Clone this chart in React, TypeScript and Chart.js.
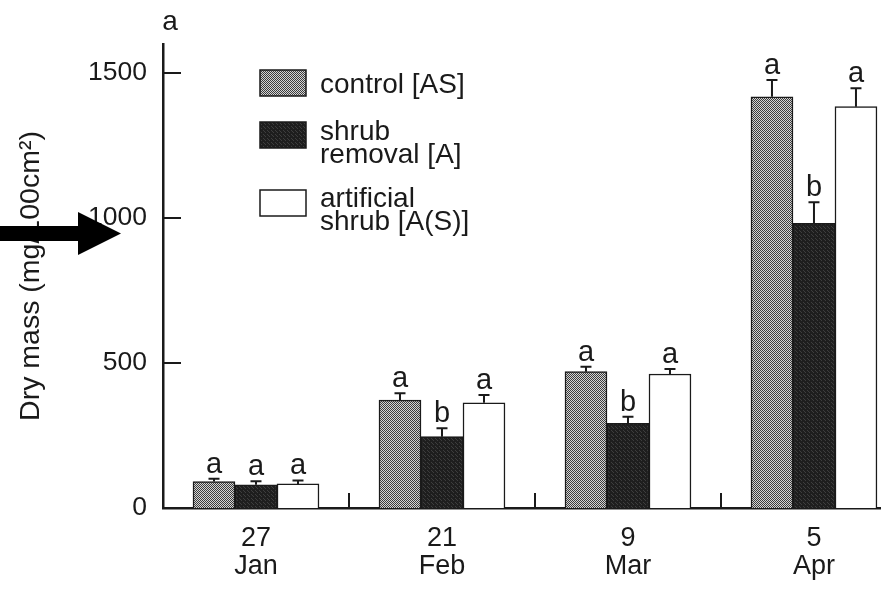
import React, { useEffect, useRef } from "react";
import { Chart, registerables } from "chart.js";

Chart.register(...registerables);

// ---------- data ----------
const categories: string[][] = [["27", "Jan"], ["21", "Feb"], ["9", "Mar"], ["5", "Apr"]];
const categoryPositions = [1, 2, 3, 4];
const seriesNames = ["control [AS]", "shrub removal [A]", "artificial shrub [A(S)]"];
const legendLines = [["control [AS]"], ["shrub", "removal [A]"], ["artificial", "shrub [A(S)]"]];

const controlValues = [91, 372, 470, 1418];
const controlErrors = [10, 24, 17, 58];
const removalValues = [80, 246, 292, 982];
const removalErrors = [12, 29, 23, 72];
const artificialValues = [83, 363, 462, 1384];
const artificialErrors = [12, 27, 17, 63];

const controlLetters = ["a", "a", "a", "a"];
const removalLetters = ["a", "b", "b", "b"];
const artificialLetters = ["a", "a", "a", "a"];

const yTicks = [0, 500, 1000, 1500];
const yMin = 0;
const yMax = 1600;
const xMin = 0.5;
const xMax = 4.355;
const boundaryTicks = [1.5, 2.5, 3.5];
const yTitle = "Dry mass (mg/100cm²)";
const panelLabel = "a";

const FONT = "'Liberation Sans', Arial, Helvetica, sans-serif";
const INK = "#1a1a1a";

function makeStipple(): CanvasPattern {
  const c = document.createElement("canvas");
  c.width = 2;
  c.height = 2;
  const g = c.getContext("2d")!;
  g.fillStyle = "#d4d4d4";
  g.fillRect(0, 0, 2, 2);
  g.fillStyle = "#3c3c3c";
  g.fillRect(0, 0, 1, 1);
  g.fillRect(1, 1, 1, 1);
  return g.createPattern(c, "repeat")!;
}

function makeDark(): CanvasPattern {
  const c = document.createElement("canvas");
  c.width = 4;
  c.height = 4;
  const g = c.getContext("2d")!;
  g.fillStyle = "#1e1e1e";
  g.fillRect(0, 0, 4, 4);
  g.fillStyle = "#3e3e3e";
  g.fillRect(1, 0, 1, 1);
  g.fillRect(3, 2, 1, 1);
  g.fillRect(0, 3, 1, 1);
  return g.createPattern(c, "repeat")!;
}

export default function App() {
  const ref = useRef<HTMLCanvasElement | null>(null);

  useEffect(() => {
    document.body.style.margin = "0";
    document.body.style.overflow = "hidden";
    document.body.style.background = "#ffffff";
    const canvas = ref.current!;
    const stipple = makeStipple();
    const dark = makeDark();
    const fills = [stipple, dark, "#ffffff"];

    const overlay = {
      id: "overlay",
      afterDatasetsDraw(chart: any) {
        const ctx = chart.ctx as CanvasRenderingContext2D;
        const xs = chart.scales.x;
        const ys = chart.scales.y;
        const area = chart.chartArea;
        ctx.save();
        ctx.strokeStyle = INK;
        ctx.fillStyle = INK;

        // inside tick marks on y axis
        ctx.lineWidth = 2;
        yTicks.forEach((v) => {
          if (v === 0) return;
          const py = ys.getPixelForValue(v);
          ctx.beginPath();
          ctx.moveTo(area.left, py);
          ctx.lineTo(area.left + 18, py);
          ctx.stroke();
        });
        // boundary tick marks on x axis
        boundaryTicks.forEach((v) => {
          const px = xs.getPixelForValue(v);
          ctx.beginPath();
          ctx.moveTo(px, area.bottom);
          ctx.lineTo(px, area.bottom - 15);
          ctx.stroke();
        });

        // error bars and letters
        chart.data.datasets.forEach((ds: any, di: number) => {
          const meta = chart.getDatasetMeta(di);
          meta.data.forEach((el: any, i: number) => {
            const v = ds.data[i].y;
            const top = ys.getPixelForValue(v + ds.errors[i]);
            ctx.lineWidth = 2;
            ctx.beginPath();
            ctx.moveTo(el.x, el.y);
            ctx.lineTo(el.x, top);
            ctx.moveTo(el.x - 5.5, top);
            ctx.lineTo(el.x + 5.5, top);
            ctx.stroke();
            ctx.font = `29px ${FONT}`;
            ctx.textAlign = "center";
            ctx.textBaseline = "alphabetic";
            ctx.fillText(ds.letters[i], el.x, top - 6);
          });
        });

        // panel label
        ctx.font = `28px ${FONT}`;
        ctx.textAlign = "center";
        ctx.textBaseline = "alphabetic";
        ctx.fillText(panelLabel, area.left + 7, 30);

        // legend
        const boxX = 260;
        const boxW = 46;
        const boxH = 26;
        const boxCenters = [83, 135, 203];
        const firstBaselines = [93, 140, 207];
        const lineGap = 23;
        ctx.font = `28px ${FONT}`;
        ctx.textAlign = "left";
        chart.data.datasets.forEach((ds: any, di: number) => {
          const cy = boxCenters[di];
          ctx.fillStyle = ds.backgroundColor;
          ctx.fillRect(boxX, cy - boxH / 2, boxW, boxH);
          ctx.lineWidth = 1.5;
          ctx.strokeStyle = INK;
          ctx.strokeRect(boxX, cy - boxH / 2, boxW, boxH);
          ctx.fillStyle = INK;
          legendLines[di].forEach((t, li) => {
            ctx.fillText(t, 320, firstBaselines[di] + li * lineGap);
          });
        });
        ctx.restore();
      },
      afterDraw(chart: any) {
        const ctx = chart.ctx as CanvasRenderingContext2D;
        ctx.save();
        ctx.fillStyle = "#000000";
        ctx.beginPath();
        ctx.moveTo(0, 226);
        ctx.lineTo(78, 226);
        ctx.lineTo(78, 212);
        ctx.lineTo(121, 233.5);
        ctx.lineTo(78, 255);
        ctx.lineTo(78, 241);
        ctx.lineTo(0, 241);
        ctx.closePath();
        ctx.fill();
        ctx.restore();
      },
    };

    const mk = (vals: number[]) => categoryPositions.map((x, i) => ({ x, y: vals[i] }));

    const chart = new Chart(canvas, {
      type: "bar",
      data: {
        datasets: [
          {
            label: seriesNames[0],
            data: mk(controlValues),
            errors: controlErrors,
            letters: controlLetters,
            backgroundColor: fills[0],
            borderColor: INK,
            borderWidth: 1.5,
            barThickness: 42,
          } as any,
          {
            label: seriesNames[1],
            data: mk(removalValues),
            errors: removalErrors,
            letters: removalLetters,
            backgroundColor: fills[1],
            borderColor: INK,
            borderWidth: 1.5,
            barThickness: 42,
          } as any,
          {
            label: seriesNames[2],
            data: mk(artificialValues),
            errors: artificialErrors,
            letters: artificialLetters,
            backgroundColor: fills[2],
            borderColor: INK,
            borderWidth: 1.5,
            barThickness: 42,
          } as any,
        ],
      },
      options: {
        animation: false,
        responsive: false,
        devicePixelRatio: 1,
        layout: { padding: { top: 44, right: 4, left: 0, bottom: 0 } },
        plugins: { legend: { display: false }, tooltip: { enabled: false } },
        scales: {
          x: {
            type: "linear",
            offset: false,
            bounds: "data",
            min: xMin,
            max: xMax,
            grid: { display: false, drawTicks: false, offset: false },
            border: { display: true, color: INK, width: 2.5 },
            afterBuildTicks: (s: any) => {
              s.ticks = categoryPositions.map((v) => ({ value: v }));
            },
            afterFit: (s: any) => {
              s.height = 84;
            },
            ticks: {
              autoSkip: false,
              maxRotation: 0,
              padding: 17,
              color: INK,
              font: { family: FONT, size: 27, lineHeight: 1.02 },
              callback: (v: any) => {
                const i = categoryPositions.indexOf(Number(v));
                return i >= 0 ? categories[i] : "";
              },
            },
          },
          y: {
            type: "linear",
            min: yMin,
            max: yMax,
            grid: { display: false, drawTicks: false },
            border: { display: true, color: INK, width: 2.5 },
            afterBuildTicks: (s: any) => {
              s.ticks = yTicks.map((v) => ({ value: v }));
            },
            afterFit: (s: any) => {
              s.width = 163;
            },
            ticks: {
              padding: 16,
              color: INK,
              font: { family: FONT, size: 26.5 },
              callback: (v: any) => String(v),
            },
            title: {
              display: true,
              text: yTitle,
              color: INK,
              font: { family: FONT, size: 28.5 },
              padding: { top: 14, bottom: 0 },
            },
          },
        },
      } as any,
      plugins: [overlay],
    });
    return () => chart.destroy();
  }, []);

  return (
    <div style={{ width: 884, height: 592, background: "#ffffff" }}>
      <canvas ref={ref} width={884} height={592} style={{ display: "block", width: 884, height: 592 }} />
    </div>
  );
}
